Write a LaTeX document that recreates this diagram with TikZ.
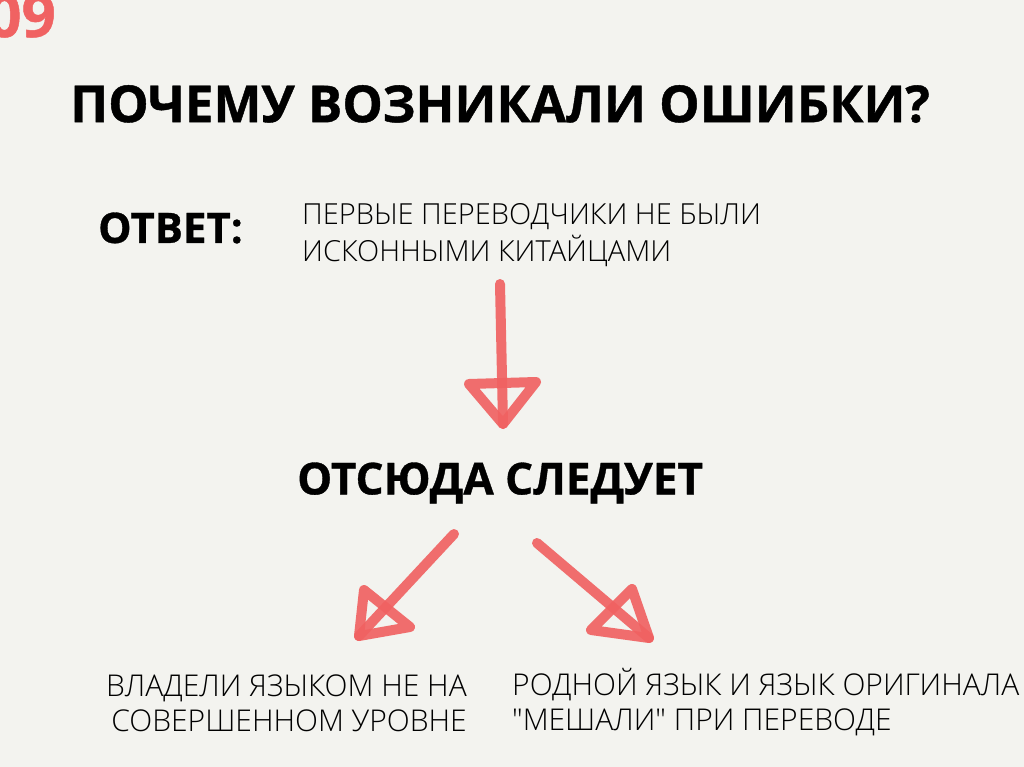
\documentclass[tikz,border=0pt]{standalone}
\usepackage{fontspec}
\setmainfont{Open Sans}
\newfontfamily\thinfont{Open Sans Light}
\newfontfamily\heavyfont[BoldFeatures={FakeBold=0.8}]{Open Sans}
\usetikzlibrary{positioning}

\definecolor{paper}{HTML}{F3F3EF}
\definecolor{brush}{HTML}{F06262}

\tikzset{
  heading/.style={anchor=west, inner sep=0pt, font=\fontsize{44}{50}\selectfont\heavyfont\bfseries},
  plain/.style={inner sep=0pt, font=\fontsize{30}{35}\selectfont\thinfont},
  stroke/.style={draw=brush, line width=10pt, line cap=round, line join=round, opacity=0.92}
}

\begin{document}
\begin{tikzpicture}[x=1pt,y=-1pt]

\fill[paper] (0,0) rectangle (1024,767);
\useasboundingbox (0,0) rectangle (1024,767);

% page number
\node[anchor=base east, inner sep=0pt, text=brush,
  font=\fontsize{60}{60}\selectfont\heavyfont\bfseries] (num) at (56,37) {09};

% headings
\node[heading, font=\fontsize{51}{56}\selectfont\heavyfont\bfseries] (question) at (70,104) {ПОЧЕМУ ВОЗНИКАЛИ ОШИБКИ?};
\node[heading, font=\fontsize{42}{50}\selectfont\heavyfont\bfseries] (answer) at (98,228) {ОТВЕТ:};
\node[heading] (result) at (297,483) {ОТСЮДА СЛЕДУЕТ};

% texts
\node[plain, anchor=north west, align=left, font=\fontsize{29}{37}\selectfont\thinfont] (reason) at (302,203)
  {ПЕРВЫЕ ПЕРЕВОДЧИКИ НЕ БЫЛИ\\ИСКОННЫМИ КИТАЙЦАМИ};
\node[plain, anchor=north east, align=right] (left) at (467,675)
  {ВЛАДЕЛИ ЯЗЫКОМ НЕ НА\\СОВЕРШЕННОМ УРОВНЕ};
\node[plain, anchor=north west, align=left] (right) at (512,668)
  {РОДНОЙ ЯЗЫК И ЯЗЫК ОРИГИНАЛА\\"МЕШАЛИ" ПРИ ПЕРЕВОДЕ};

% hand drawn arrows
\coordinate (a1) at (500,284);
\coordinate (a1t) at (503,424);
\coordinate (a1l) at (469,384);
\coordinate (a1r) at (536,382);
\draw[stroke] (a1) -- (a1t);
\draw[stroke] (a1l) -- (a1r) -- (a1t) -- cycle;

\coordinate (a2) at (454,534);
\coordinate (a2t) at (359,636);
\coordinate (a2u) at (364,590);
\coordinate (a2r) at (410,627);
\draw[stroke] (a2) -- (a2t);
\draw[stroke] (a2u) -- (a2t) -- (a2r) -- cycle;

\coordinate (a3) at (537,543);
\coordinate (a3t) at (649,638);
\coordinate (a3u) at (632,589);
\coordinate (a3l) at (591,630);
\draw[stroke] (a3) -- (a3t);
\draw[stroke] (a3u) -- (a3t) -- (a3l) -- cycle;

\end{tikzpicture}
\end{document}
